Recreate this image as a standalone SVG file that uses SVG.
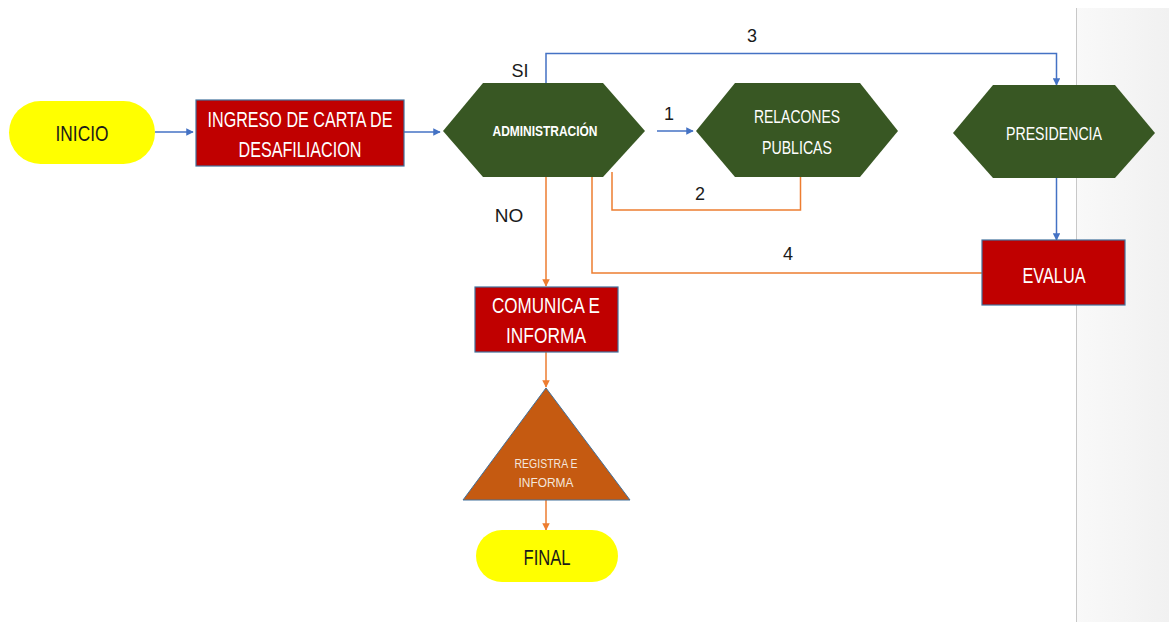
<svg xmlns="http://www.w3.org/2000/svg" width="1169" height="622" viewBox="0 0 1169 622">
  <defs>
    <style>
      .lbl { font-family: "Liberation Sans", Arial, sans-serif; text-anchor: middle; }
      .white { fill: #FFFFFF; }
      .dark { fill: #1A1A1A; }
      .box { fill: #C00000; stroke: #41719C; stroke-width: 1.2; }
      .hex { fill: #385723; }
      .pill { fill: #FFFF00; }
      .blue { fill: none; stroke: #4472C4; stroke-width: 1.5; }
      .orange { fill: none; stroke: #ED7D31; stroke-width: 1.5; }
    </style>
    <marker id="arrBlue" viewBox="0 0 10 10" refX="9" refY="5" markerWidth="5" markerHeight="5" orient="auto" markerUnits="strokeWidth">
      <path d="M0,0 L10,5 L0,10 z" fill="#4472C4"/>
    </marker>
    <marker id="arrOrange" viewBox="0 0 10 10" refX="9" refY="5" markerWidth="5" markerHeight="5" orient="auto" markerUnits="strokeWidth">
      <path d="M0,0 L10,5 L0,10 z" fill="#ED7D31"/>
    </marker>
    <linearGradient id="panelGrad" x1="0" y1="0" x2="1" y2="0">
      <stop offset="0" stop-color="#F9F9F9"/>
      <stop offset="1" stop-color="#F1F1F1"/>
    </linearGradient>
  </defs>

  <rect x="0" y="0" width="1169" height="622" fill="#FFFFFF"/>
  <!-- page margin on the right -->
  <rect x="1076" y="8" width="93" height="614" fill="url(#panelGrad)"/>
  <line x1="1076.5" y1="8" x2="1076.5" y2="622" stroke="#C8C8C8" stroke-width="1"/>

  <!-- connectors -->
  <g id="connectors">
    <line class="blue" x1="155" y1="132" x2="193" y2="132" marker-end="url(#arrBlue)"/>
    <line class="blue" x1="404" y1="132" x2="440" y2="132" marker-end="url(#arrBlue)"/>
    <line class="blue" x1="657" y1="131" x2="693" y2="131" marker-end="url(#arrBlue)"/>
    <polyline class="blue" points="546,83 546,53.5 1056.5,53.5 1056.5,85" marker-end="url(#arrBlue)"/>
    <line class="blue" x1="1056.5" y1="178" x2="1056.5" y2="240" marker-end="url(#arrBlue)"/>
    <line class="orange" x1="546" y1="177" x2="546" y2="286" marker-end="url(#arrOrange)"/>
    <polyline class="orange" points="612,172 612,210 800.5,210 800.5,177"/>
    <polyline class="orange" points="592,177 592,273 982,273"/>
    <line class="orange" x1="546" y1="352" x2="546" y2="387" marker-end="url(#arrOrange)"/>
    <line class="orange" x1="546" y1="500" x2="546" y2="530" marker-end="url(#arrOrange)"/>

    <text class="lbl dark" x="520" y="77" font-size="18">SI</text>
    <text class="lbl dark" x="509" y="222" font-size="19">NO</text>
    <text class="lbl dark" x="669" y="120" font-size="18">1</text>
    <text class="lbl dark" x="700" y="200" font-size="18">2</text>
    <text class="lbl dark" x="752" y="42" font-size="18">3</text>
    <text class="lbl dark" x="788" y="260" font-size="18">4</text>
  </g>

  <!-- start -->
  <g id="inicio">
    <rect class="pill" x="9" y="101" width="146" height="63" rx="31.5"/>
    <text class="lbl dark" x="82" y="141" font-size="22" textLength="53" lengthAdjust="spacingAndGlyphs">INICIO</text>
  </g>

  <g id="ingreso">
    <rect class="box" x="196" y="100" width="208" height="66"/>
    <text class="lbl white" x="300" y="127" font-size="22" textLength="185" lengthAdjust="spacingAndGlyphs">INGRESO DE CARTA DE</text>
    <text class="lbl white" x="300" y="157" font-size="22" textLength="123" lengthAdjust="spacingAndGlyphs">DESAFILIACION</text>
  </g>

  <g id="administracion">
    <polygon class="hex" points="443,131 483,83 603,83 645,131 603,177 483,177"/>
    <text class="lbl white" x="545" y="136" font-size="14" font-weight="bold" textLength="105" lengthAdjust="spacingAndGlyphs">ADMINISTRACIÓN</text>
  </g>

  <g id="relaciones">
    <polygon class="hex" points="696,131 735,83 860,83 898,131 860,177 735,177"/>
    <text class="lbl white" x="797" y="123" font-size="18" textLength="86" lengthAdjust="spacingAndGlyphs">RELACONES</text>
    <text class="lbl white" x="797" y="154" font-size="18" textLength="70" lengthAdjust="spacingAndGlyphs">PUBLICAS</text>
  </g>

  <g id="presidencia">
    <polygon class="hex" points="953,133 993,85 1115,85 1155,133 1115,178 993,178"/>
    <text class="lbl white" x="1054" y="140" font-size="18" textLength="96" lengthAdjust="spacingAndGlyphs">PRESIDENCIA</text>
  </g>

  <g id="evalua">
    <rect class="box" x="982" y="240" width="143" height="65"/>
    <text class="lbl white" x="1054" y="283" font-size="22" textLength="63" lengthAdjust="spacingAndGlyphs">EVALUA</text>
  </g>

  <g id="comunica">
    <rect class="box" x="475" y="287" width="143" height="65"/>
    <text class="lbl white" x="546" y="313" font-size="22" textLength="108" lengthAdjust="spacingAndGlyphs">COMUNICA E</text>
    <text class="lbl white" x="546" y="343" font-size="22" textLength="80" lengthAdjust="spacingAndGlyphs">INFORMA</text>
  </g>

  <g id="registra">
    <polygon points="546,388 630,500 463,500" fill="#C55A11" stroke="#41719C" stroke-width="1"/>
    <text class="lbl" fill="#F4E6DC" x="546" y="468" font-size="13" textLength="63" lengthAdjust="spacingAndGlyphs">REGISTRA E</text>
    <text class="lbl" fill="#F4E6DC" x="546" y="487" font-size="13" textLength="55" lengthAdjust="spacingAndGlyphs">INFORMA</text>
  </g>

  <g id="final">
    <rect class="pill" x="476" y="530" width="142" height="52" rx="26"/>
    <text class="lbl dark" x="547" y="565" font-size="22" textLength="47" lengthAdjust="spacingAndGlyphs">FINAL</text>
  </g>
</svg>
